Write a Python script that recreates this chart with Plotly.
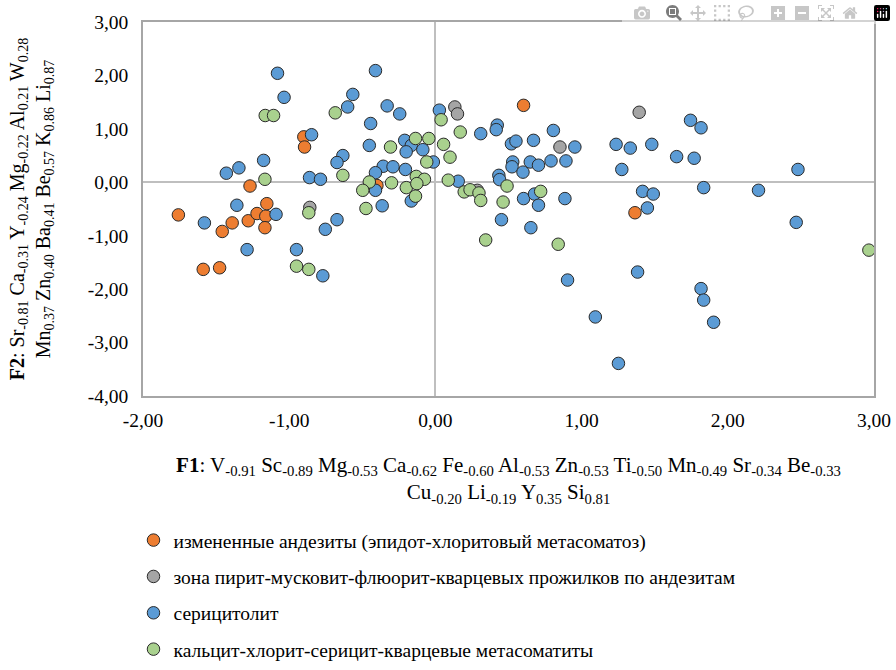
import plotly.graph_objects as go

# Data
orange_x = [-1.758, -1.588, -1.476, -1.458, -1.39, -1.28, -1.268, -1.22, -1.16, -1.166, -1.153, -0.90, -0.895, -0.40, 0.603, 1.365]
orange_y = [-0.61, -1.63, -1.60, -0.92, -0.76, -0.72, -0.07, -0.585, -0.635, -0.85, -0.40, 0.85, 0.66, -0.06, 1.44, -0.57]

gray_x = [0.133, 0.151, 1.394, 0.852, -0.859, 0.287]
gray_y = [1.41, 1.28, 1.31, 0.66, -0.47, -0.15]

blue_x = [-1.08, -1.035, -0.41, -0.565, -0.60, -0.33, -0.244, -0.443, -0.847, -0.452,
          -0.21, -0.165, -0.2, -0.086, 0.027, -0.014, -0.633, -0.673, -1.175, -1.43,
          -1.344, -0.861, -0.786, -0.357, -0.29, -0.205, -0.41, -0.41, -0.364, -0.165,
          -1.358, -1.09, -1.58, -0.753, -0.673, -1.288, -0.95, -0.77,
          0.31, 0.423, 0.416, 0.807, 0.52, 0.551, 0.671, 0.954, 0.529, 0.524,
          0.599, 0.649, 0.705, 0.791, 0.893, 0.434, 0.439, 0.156, 0.603, 0.678,
          0.705, 0.886, 0.452, 0.653, 0.904, 1.094, 1.252, 1.383, 1.236, 1.333,
          1.48, 1.65, 1.77, 1.275, 1.745, 1.817, 2.48, 1.417, 1.49, 1.45,
          1.835, 2.21, 2.468, 1.817, 1.835, 1.903]
blue_y = [2.04, 1.59, 2.09, 1.645, 1.41, 1.43, 1.28, 1.10, 0.89, 0.69,
          0.785, 0.69, 0.57, 0.61, 1.35, 0.38, 0.50, 0.37, 0.41, 0.17,
          0.27, 0.088, 0.056, 0.30, 0.29, 0.24, 0.18, -0.15, -0.44, -0.35,
          -0.43, -0.60, -0.76, -0.88, -0.70, -1.26, -1.26, -1.75,
          0.91, 1.07, 0.985, 0.97, 0.72, 0.77, 0.785, 0.66, 0.38, 0.29,
          0.19, 0.38, 0.32, 0.40, 0.40, 0.13, 0.05, 0.02, -0.305, -0.22,
          -0.43, -0.305, -0.70, -0.85, -1.83, -2.52, -3.39, -1.68, 0.71, 0.64,
          0.71, 0.48, 0.45, 0.24, 1.16, 1.02, 0.24, -0.17, -0.22, -0.48,
          -0.10, -0.15, -0.75, -1.99, -2.205, -2.62]

green_x = [-1.164, -1.107, -0.685, -1.166, -0.633, -0.866, -0.95, -0.866, -0.307, -0.136,
           -0.045, 0.039, 0.17, 0.056, 0.10, -0.059, -0.131, -0.075, -0.452, -0.30,
           -0.497, -0.199, -0.127, -0.136, -0.475, 0.088, 0.197, 0.237, 0.298, 0.31,
           0.49, 0.463, 0.72, 0.344, 0.84, 2.965]
green_y = [1.25, 1.25, 1.30, 0.056, 0.13, -0.57, -1.57, -1.63, 0.66, 0.82,
           0.82, 1.17, 0.94, 0.71, 0.47, 0.38, 0.11, 0.056, 0.006, -0.01,
           -0.15, -0.10, -0.025, -0.26, -0.49, 0.04, -0.18, -0.14, -0.20, -0.34,
           -0.07, -0.37, -0.17, -1.08, -1.16, -1.27]

series_names = [
    "измененные андезиты (эпидот-хлоритовый метасоматоз)",
    "зона пирит-мусковит-флюорит-кварцевых прожилков по андезитам",
    "серицитолит",
    "кальцит-хлорит-серицит-кварцевые метасоматиты",
]
series_colors = ["#ED7D31", "#A5A5A5", "#5B9BD5", "#A9D18E"]

x_ticks = [-2, -1, 0, 1, 2, 3]
x_ticktext = ["-2,00", "-1,00", "0,00", "1,00", "2,00", "3,00"]
y_ticks = [-4, -3, -2, -1, 0, 1, 2, 3]
y_ticktext = ["-4,00", "-3,00", "-2,00", "-1,00", "0,00", "1,00", "2,00", "3,00"]

x_title = ("<b>F1</b>: V<sub>-0.91</sub> Sc<sub>-0.89</sub> Mg<sub>-0.53</sub> Ca<sub>-0.62</sub> "
           "Fe<sub>-0.60</sub> Al<sub>-0.53</sub> Zn<sub>-0.53</sub> Ti<sub>-0.50</sub> "
           "Mn<sub>-0.49</sub> Sr<sub>-0.34</sub> Be<sub>-0.33</sub><br>"
           "Cu<sub>-0.20</sub> Li<sub>-0.19</sub> Y<sub>0.35</sub> Si<sub>0.81</sub>")
y_title = ("<b>F2</b>: Sr<sub>-0.81</sub> Ca<sub>-0.31</sub> Y<sub>-0.24</sub> Mg<sub>-0.22</sub> "
           "Al<sub>0.21</sub> W<sub>0.28</sub><br>"
           "Mn<sub>0.37</sub> Zn<sub>0.40</sub> Ba<sub>0.41</sub> Be<sub>0.57</sub> "
           "K<sub>0.86</sub> Li<sub>0.87</sub>")

FONT = "Liberation Serif"

fig = go.Figure()
data = [(orange_x, orange_y), (gray_x, gray_y), (blue_x, blue_y), (green_x, green_y)]
for i, ((xs, ys), name, col) in enumerate(zip(data, series_names, series_colors)):
    fig.add_trace(go.Scatter(
        x=xs, y=ys, mode="markers", name=name, legendgroup=str(i),
        marker=dict(size=12.5, color=col, line=dict(color="#2a2a2a", width=1)),
    ))

fig.update_layout(
    width=896, height=670,
    margin=dict(l=143, r=22, t=22, b=274, autoexpand=False),
    paper_bgcolor="white", plot_bgcolor="white",
    font=dict(family=FONT, size=19, color="#000000"),
    showlegend=True,
    legend=dict(
        x=-0.013, y=-0.334, xanchor="left", yanchor="top",
        font=dict(family=FONT, size=19.5, color="#000000"),
        traceorder="grouped", tracegroupgap=8,
        itemwidth=30, bgcolor="rgba(0,0,0,0)",
    ),
)
fig.update_xaxes(
    range=[-2, 3], tickvals=x_ticks, ticktext=x_ticktext,
    showgrid=False, zeroline=True, zerolinecolor="#BFBFBF", zerolinewidth=1.5,
    showline=True, mirror=True, linecolor="#A6A6A6", linewidth=1.5,
    ticks="", tickfont=dict(family=FONT, size=19.5), ticklabelstandoff=6,
    automargin=False,
    title=dict(text=x_title, font=dict(family=FONT, size=21), standoff=27),
)
fig.update_yaxes(
    range=[-4, 3], tickvals=y_ticks, ticktext=y_ticktext,
    showgrid=False, zeroline=True, zerolinecolor="#BFBFBF", zerolinewidth=1.5,
    showline=True, mirror=True, linecolor="#A6A6A6", linewidth=1.5,
    ticks="", tickfont=dict(family=FONT, size=19.5), ticklabelstandoff=9,
    automargin=False,
    title=dict(text=y_title, font=dict(family=FONT, size=20), standoff=32),
)

fig.write_html("out.html", post_script="document.body.style.margin='0';")
